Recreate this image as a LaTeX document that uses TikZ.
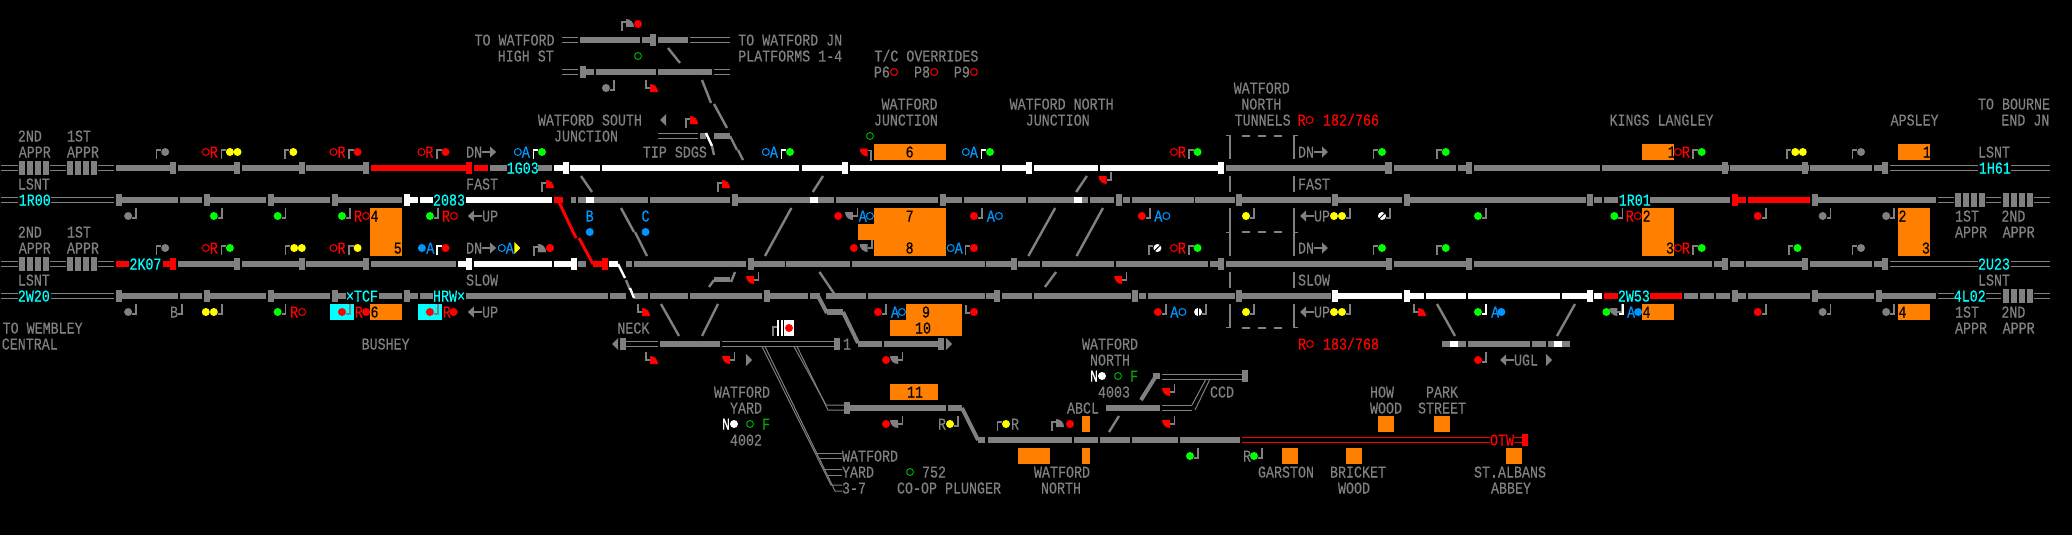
\documentclass[tikz,border=0pt]{standalone}
\usepackage{fontspec}
\newfontfamily\sgfont[FakeStretch=0.808,FakeBold=0.3]{Liberation Mono}
\definecolor{gy}{HTML}{808080}
\definecolor{rd}{HTML}{FF0000}
\definecolor{wh}{HTML}{FFFFFF}
\definecolor{gn}{HTML}{00FF00}
\definecolor{dg}{HTML}{00AA00}
\definecolor{yl}{HTML}{FFFF00}
\definecolor{cy}{HTML}{00FFFF}
\definecolor{bl}{HTML}{0096FF}
\definecolor{og}{HTML}{FF8000}
\newcounter{tn}
\tikzset{
  txt/.style={inner sep=0pt,outer sep=0pt,anchor=base west,font=\sgfont\fontsize{16.5}{16.5}\selectfont},
  thinl/.style={line width=1pt},
  postl/.style={line width=1.6pt},
  diag/.style={gy,line width=2.4pt},
}
\newcommand\sgT[4]{\stepcounter{tn}\node[txt,text=#1] (t\arabic{tn}) at (#2,#3+5.5) {#4};}
\newcommand\sgSeg[3]{\foreach \a/\b in {#3} {\fill[#1] (\a,#2-3) rectangle (\b,#2+3);}}
\newcommand\sgTick[3]{\foreach \a in {#3} {\fill[#1] (\a,#2-6) rectangle ++(6pt,-12pt);}}
\newcommand\sgDbl[3]{\foreach \a/\b in {#3} {\draw[#1,thinl] (\a,#2-2.5) -- (\b,#2-2.5) (\a,#2+2.5) -- (\b,#2+2.5);}}
\newcommand\sgStr[2]{\begin{scope}[shift={(#1,#2)},x=1pt]\foreach \i in {0,8,16,24} {\fill[gy] (\i,-7) rectangle (\i+6,7);}\end{scope}}
\newcommand\sgBox[5]{\fill[#1] (#2,#3) rectangle (#4,#5);}
\newcommand\sgDot[3]{\fill[#1] (#2,#3) circle[radius=4pt];}
\newcommand\sgRing[3]{\draw[#1,line width=1pt] (#2,#3) circle[radius=3.5pt];}
\newcommand\sgA[4]{\begin{scope}[shift={(#1,#2)},x=1pt]\draw[#4,postl] (-8.5,7) -- (-8.5,-2) -- (-4,-2);\fill[#3] (0,0) circle[radius=4pt];\end{scope}}
\newcommand\sgB[4]{\begin{scope}[shift={(#1,#2)},x=1pt]\draw[#4,postl] (8,-8) -- (8,2) -- (4,2);\fill[#3] (0,0) circle[radius=4pt];\end{scope}}
\newcommand\sgPostB[3]{\begin{scope}[shift={(#1,#2)},x=1pt]\draw[#3,postl] (8,-8) -- (8,2) -- (4,2);\end{scope}}
\newcommand\shA[3]{\begin{scope}[shift={(#1,#2)},x=1pt]\draw[gy,postl] (-4,4) -- (-4,-5) -- (0,-5);\fill[#3] (0,0) -- (8,0) arc[start angle=0,end angle=90,radius=8pt] -- cycle;\end{scope}}
\newcommand\shB[3]{\begin{scope}[shift={(#1,#2)},x=1pt]\draw[gy,postl] (-4,-12) -- (-4,-4) -- (0,-4);\fill[#3] (0,0) -- (8,0) arc[start angle=0,end angle=90,radius=8pt] -- cycle;\end{scope}}
\newcommand\shC[3]{\begin{scope}[shift={(#1,#2)},x=1pt]\draw[gy,postl] (4.5,-4) -- (4.5,4) -- (0,4);\fill[#3] (0,0) -- (0,8) arc[start angle=270,end angle=180,radius=8pt] -- cycle;\end{scope}}
\newcommand\shD[3]{\begin{scope}[shift={(#1,#2)},x=1pt]\draw[gy,postl] (0,2) -- (3.5,2) -- (3.5,12);\fill[#3] (0,0) -- (0,8) arc[start angle=270,end angle=180,radius=8pt] -- cycle;\end{scope}}
\newcommand\sgRingL[5]{\begin{scope}[shift={(#3,#4)},x=1pt]\sgRing{#1}{4}{0}\sgT{#1}{8}{0}{#2}\end{scope}}
\newcommand\sgLRing[5]{\begin{scope}[shift={(#3,#4)},x=1pt]\sgT{#1}{0}{0}{#2}\sgRing{#1}{12}{0}\end{scope}}
\newcommand\sgArR[2]{\begin{scope}[shift={(#1,#2)},x=1pt]\fill[gy] (0,-1) rectangle (8,1);\fill[gy] (8,-5.5) -- (14,0) -- (8,5.5) -- cycle;\end{scope}}
\newcommand\sgArL[2]{\begin{scope}[shift={(#1,#2)},x=1pt]\fill[gy] (6,-1) rectangle (14,1);\fill[gy] (6,-5.5) -- (0,0) -- (6,5.5) -- cycle;\end{scope}}
\newcommand\sgTriR[3]{\begin{scope}[shift={(#1,#2)},x=1pt]\fill[#3] (0,-6) -- (6,0) -- (0,6) -- cycle;\end{scope}}
\newcommand\sgTriL[3]{\begin{scope}[shift={(#1,#2)},x=1pt]\fill[#3] (6,-6) -- (0,0) -- (6,6) -- cycle;\end{scope}}
\begin{document}
\begin{tikzpicture}[x=1pt,y=-1pt]
\fill[black] (0,0) rectangle (2072,535);
\useasboundingbox (0,0) rectangle (2072,535);
%% ---------- SCOPE A: zoom 1/2 x units
\begin{scope}[x=0.44643pt]
\sgBox{og}{829}{208}{900}{256}
\sgBox{og}{829}{304}{900}{320}
\sgBox{cy}{739}{304}{793}{320}
\sgBox{cy}{936}{304}{990}{320}
% row 168
\sgDbl{gy}{168}{3/40,113/148,220/256}
\sgStr{43}{168}\sgStr{150}{168}
\sgSeg{gy}{168}{260/390,399/536,542/680,685/824,1098/1135,1204/1237}
\sgTick{gy}{168}{381,524,669,812}
\sgSeg{rd}{168}{830/1056,1062/1094}
\sgTick{rd}{168}{1044}
\sgSeg{wh}{168}{1241/1272,1277/1344,1348/1568}
\sgTick{wh}{168}{1260}
\sgT{cy}{1135}{168}{1G03}
% row 200
\sgDbl{gy}{200}{3/40,114/256}
\sgT{cy}{42}{200}{1R00}
\sgSeg{gy}{200}{272/399,403/453,470/596,613/739,757/901,1278/1290,1295/1312,1330/1452,1456/1568}
\sgTick{gy}{200}{260,457,600,744}
\sgSeg{wh}{200}{918/936,941/970,1044/1236,1313/1330}
\sgTick{wh}{200}{905}
\sgSeg{rd}{200}{1241/1262}
\sgT{cy}{970}{200}{2083}
% row 264
\sgDbl{gy}{264}{3/40,113/148,220/256}
\sgStr{43}{264}\sgStr{150}{264}
\sgSeg{rd}{264}{260/290,364/394,1328/1362}
\sgTick{rd}{264}{381,1348}
\sgT{cy}{290}{264}{2K07}
\sgSeg{gy}{264}{399/536,542/680,685/824,830/1022,1295/1312,1403/1415,1420/1568}
\sgTick{gy}{264}{524,669,812}
\sgSeg{wh}{264}{1027/1058,1062/1236,1241/1290,1365/1385}
\sgTick{wh}{264}{1044,1278}
% row 296
\sgDbl{gy}{296}{3/40,114/256}
\sgT{cy}{40}{296}{2W20}
\sgSeg{gy}{296}{272/399,403/453,470/596,613/739,757/775,848/901,918/936,941/970,1044/1362,1366/1402,1420/1452,1456/1541,1546/1568}
\sgTick{gy}{296}{260,457,600,744,905}
\sgT{cy}{775}{296}{×TCF}
\sgT{cy}{970}{296}{HRW×}
% labels
\sgT{gy}{40}{136}{2ND}\sgT{gy}{150}{136}{1ST}
\sgT{gy}{42}{152}{APPR}\sgT{gy}{150}{152}{APPR}
\sgT{gy}{40}{184}{LSNT}\sgT{gy}{1044}{184}{FAST}
\sgT{gy}{40}{232}{2ND}\sgT{gy}{150}{232}{1ST}
\sgT{gy}{42}{248}{APPR}\sgT{gy}{150}{248}{APPR}
\sgT{gy}{40}{280}{LSNT}\sgT{gy}{1044}{280}{SLOW}
\sgT{gy}{6}{328}{TO WEMBLEY}\sgT{gy}{4}{344}{CENTRAL}
\sgT{gy}{810}{344}{BUSHEY}
\sgT{gy}{1063}{40}{TO WATFORD}\sgT{gy}{1115}{56}{HIGH ST}
\sgT{gy}{1205}{120}{WATFORD SOUTH}\sgT{gy}{1241}{136}{JUNCTION}
\sgT{gy}{1440}{152}{TIP SDGS}
\sgT{gy}{1383}{328}{NECK}
\sgT{bl}{1312}{216}{B}\sgT{bl}{1437}{216}{C}
\sgDot{bl}{1321}{232}\sgDot{bl}{1446}{232}
% signals y=152
\sgA{370}{152}{gy}{gy}
\sgRingL{rd}{R}{452}{152}{}
\sgA{515}{152}{yl}{gy}\sgDot{yl}{532}{152}
\sgA{657}{152}{yl}{gy}
\sgRingL{rd}{R}{738}{152}{}\sgA{801}{152}{rd}{gy}
\sgRingL{rd}{R}{935}{152}{}\sgA{998}{152}{rd}{gy}
\sgT{gy}{1044}{152}{DN}\sgArR{1080}{152}
\sgRingL{bl}{A}{1151}{152}{}\sgA{1214}{152}{gn}{wh}
% y=216
\sgB{287}{216}{gy}{gy}\sgB{479}{216}{gn}{gy}\sgB{622}{216}{gn}{gy}\sgB{766}{216}{gn}{gy}
\sgLRing{rd}{R}{793}{216}{}
\sgT{black}{830}{216}{4}\sgT{black}{882}{248}{5}
\sgB{963}{216}{gn}{gy}\sgLRing{rd}{R}{990}{216}{}
\sgArL{1048}{216}\sgT{gy}{1080}{216}{UP}
% y=248
\sgA{370}{248}{gy}{gy}
\sgRingL{rd}{R}{452}{248}{}\sgA{515}{248}{gn}{gy}
\sgA{659}{248}{yl}{gy}\sgDot{yl}{676}{248}
\sgRingL{rd}{R}{738}{248}{}\sgA{801}{248}{yl}{gy}
\sgDot{bl}{945}{248}\sgT{bl}{955}{248}{A}
\sgA{998}{248}{rd}{wh}
\sgT{gy}{1044}{248}{DN}\sgArR{1080}{248}
\sgRingL{bl}{A}{1115}{248}{}
\sgTriR{1152}{248}{yl}
\shA{1205}{252}{gy}\sgDot{rd}{1232}{248}
% y=312
\sgB{287}{312}{gy}{gy}
\sgT{gy}{381}{312}{B}\sgPostB{390}{312}{gy}
\sgB{479}{312}{yl}{gy}\sgDot{yl}{461}{312}
\sgB{622}{312}{gn}{gy}\sgLRing{rd}{R}{650}{312}{}
\sgB{766}{312}{rd}{gy}\sgT{rd}{795}{312}{R}\sgDot{rd}{820}{312}
\sgT{black}{830}{312}{6}
\sgB{963}{312}{rd}{gy}\sgT{rd}{992}{312}{R}\sgDot{rd}{1016}{312}
\sgArL{1048}{312}\sgT{gy}{1080}{312}{UP}
\end{scope}
%% ---------- SCOPE B: zoom 3/4 x units
\begin{scope}[x=0.44643pt,xshift=690pt]
\sgBox{og}{412}{144}{573}{160}
\sgBox{og}{412}{208}{573}{256}
\sgBox{og}{376}{224}{412}{240}
% row 168
\sgSeg{wh}{168}{0/245,250/355,358/694,698/766,771/914,918/1196}
\sgTick{wh}{168}{340,753,1183}
\sgSeg{gy}{168}{1200/1568}
\sgTick{gy}{168}{1557}
% row 200
\sgSeg{gy}{200}{0/90,108/268,287/323,327/556,573/609,613/753,757/860,878/892,896/950,969/985,990/1128,1132/1220,1237/1435,1452/1568}
\sgSeg{wh}{200}{268/287,860/878}
\sgTick{gy}{200}{94,560,955,1223,1438}
% row 264
\sgSeg{gy}{264}{0/126,144/212,216/358,362/660,664/720,735/783,788/950,954/1160,1165/1183,1200/1568}
\sgTick{gy}{264}{130,718,1183}
% row 296
\sgSeg{gy}{296}{0/162,180/264,268/292,305/395,399/660,664/680,699/766,771/988,1005/1022,1026/1220,1237/1435}
\sgTick{gy}{296}{166,680,991,1223}
\sgTick{wh}{296}{1438}
\sgSeg{wh}{296}{1452/1568}
% labels
\sgT{gy}{108}{40}{TO WATFORD JN}\sgT{gy}{108}{56}{PLATFORMS 1-4}
\sgT{gy}{413}{56}{T/C OVERRIDES}
\sgT{gy}{412}{72}{P6}\sgRing{rd}{457}{72}
\sgT{gy}{502}{72}{P8}\sgRing{rd}{547}{72}
\sgT{gy}{591}{72}{P9}\sgRing{rd}{636}{72}
\sgT{gy}{429}{104}{WATFORD}\sgT{gy}{412}{120}{JUNCTION}
\sgT{gy}{716}{104}{WATFORD NORTH}\sgT{gy}{752}{120}{JUNCTION}
\sgT{gy}{1218}{88}{WATFORD}\sgT{gy}{1235}{104}{NORTH}\sgT{gy}{1220}{120}{TUNNELS}
\sgLRing{rd}{R}{1361}{120}{}\sgT{rd}{1418}{120}{182/766}
\sgRing{dg}{403}{136}
% y=152
\sgRingL{bl}{A}{161}{152}{}\sgA{224}{152}{gn}{wh}
\shD{398}{148.5}{rd}
\sgT{black}{483}{152}{6}
\sgRingL{bl}{A}{609}{152}{}\sgA{672}{152}{gn}{wh}
\sgRingL{rd}{R}{1075}{152}{}\sgA{1137}{152}{gn}{gy}
% y=184
\draw[diag] (275,192) -- (298,176);
\shC{933}{176}{rd}
\draw[diag] (865,192) -- (889,176);
% y=216
\sgDot{rd}{332}{216}\shC{365}{212}{gy}
\sgT{bl}{378}{216}{A}\sgRing{bl}{403}{216}
\sgT{black}{483}{216}{7}\sgT{black}{483}{248}{8}
\sgB{636}{216}{rd}{gy}\sgLRing{bl}{A}{665}{216}{}
\sgB{1012}{216}{rd}{gy}\sgLRing{bl}{A}{1040}{216}{}
% y=248
\sgDot{rd}{367}{248}\shC{398}{244}{gy}
\sgRingL{bl}{A}{575}{248}{}\sgA{636}{248}{rd}{gy}
\sgA{1047}{248}{wh}{gy}\draw[black,line width=1pt] (1040,251) -- (1054,245);
\sgRingL{rd}{R}{1075}{248}{}\sgA{1137}{248}{gn}{gy}
% diagonals
\draw[diag] (168,256) -- (227,208);
\draw[diag] (758,256) -- (818,208);
\draw[diag] (866,256) -- (925,208);
% y 280 etc
\draw[diag] (795,287) -- (820,272);
\shC{968}{276}{rd}
\draw[diag] (290,272) -- (325,295);
\sgB{1048}{312}{rd}{gy}\sgLRing{bl}{A}{1076}{312}{}
\sgB{1138}{312}{wh}{gy}\draw[black,line width=1pt] (1138,308) -- (1138,316);
\end{scope}
%% ---------- SCOPE C: zoom 5 x units
\begin{scope}[x=0.4413pt,xshift=1380pt]
\sgBox{og}{594}{144}{666}{160}
\sgBox{og}{1174}{144}{1246}{160}
\sgBox{og}{594}{208}{666}{256}
\sgBox{og}{1174}{208}{1246}{256}
\sgBox{og}{594}{304}{666}{320}
\sgBox{og}{1174}{304}{1246}{320}
% row 168
\sgSeg{gy}{168}{0/27,32/172,177/208,213/498,503/790,793/971,974/1115,1120/1152}
\sgTick{gy}{168}{14,195,776,957,1138}
\sgDbl{gy}{168}{1156/1355,1430/1518}
\sgT{cy}{1357}{168}{1H61}
% row 200
\sgSeg{gy}{200}{0/50,68/467,484/503,508/539,612/792,992/1260}
\sgTick{gy}{200}{54,470,979}
\sgT{cy}{541}{200}{1R01}
\sgTick{rd}{200}{798}
\sgSeg{rd}{200}{811/830,834/974}
\sgDbl{gy}{200}{1264/1300,1374/1408,1482/1518}
\sgStr{1303}{200}\sgStr{1412}{200}
% row 264
\sgSeg{gy}{264}{0/27,32/195,213/752,757/776,793/825,829/957,974/1115,1120/1138}
\sgTick{gy}{264}{14,195,776,957,1138}
\sgDbl{gy}{264}{1156/1355,1430/1518}
\sgT{cy}{1355}{264}{2U23}
% row 296
\sgSeg{wh}{296}{0/50,68/100,104/195,199/408,412/470,484/503}
\sgTick{wh}{296}{54,470}
\sgSeg{rd}{296}{508/539,612/684}
\sgT{cy}{539}{296}{2W53}
\sgSeg{gy}{296}{688/720,724/757,761/793,811/830,834/974,992/1120,1137/1260}
\sgTick{gy}{296}{798,979,1124}
\sgDbl{gy}{296}{1264/1300,1374/1408,1482/1518}
\sgT{cy}{1300}{296}{4L02}
\sgStr{1412}{296}
% labels
\sgT{gy}{520}{120}{KINGS LANGLEY}\sgT{gy}{1157}{120}{APSLEY}
\sgT{gy}{1355}{104}{TO BOURNE}\sgT{gy}{1408}{120}{END JN}
\sgT{gy}{1355}{152}{LSNT}\sgT{gy}{1355}{280}{LSNT}
\sgT{gy}{1303}{216}{1ST}\sgT{gy}{1408}{216}{2ND}
\sgT{gy}{1303}{232}{APPR}\sgT{gy}{1411}{232}{APPR}
\sgT{gy}{1303}{312}{1ST}\sgT{gy}{1408}{312}{2ND}
\sgT{gy}{1303}{328}{APPR}\sgT{gy}{1411}{328}{APPR}
% y=152
\sgA{149}{152}{gn}{gy}
\sgT{black}{652}{152}{1}\sgRingL{rd}{R}{666}{152}{}
\sgA{729}{152}{gn}{gy}
\sgA{941}{152}{yl}{gy}\sgDot{yl}{958}{152}
\sgA{1090}{152}{gy}{gy}
\sgT{black}{1230}{152}{1}
% y=216
\sgB{222}{216}{gn}{gy}\sgB{531}{216}{gn}{gy}
\sgLRing{rd}{R}{557}{216}{}
\sgT{black}{595}{216}{2}\sgT{black}{648}{248}{3}
\sgRingL{rd}{R}{666}{248}{}
\sgB{856}{216}{rd}{gy}\sgB{1003}{216}{gy}{gy}\sgB{1147}{216}{gy}{gy}
\sgT{black}{1175}{216}{2}\sgT{black}{1228}{248}{3}
% y=248
\sgA{149}{248}{gn}{gy}\sgA{729}{248}{gn}{gy}
\sgA{946}{248}{gn}{gy}\sgA{1090}{248}{gy}{gy}
% y=312
\sgB{222}{312}{gn}{wh}\sgT{bl}{252}{312}{A}\sgDot{bl}{275}{312}
\sgDot{gn}{513}{312}
\shC{538}{308}{gy}\sgPostB{533}{312}{wh}
\sgT{bl}{560}{312}{A}\sgDot{bl}{585}{312}
\sgT{black}{595}{312}{4}
\sgB{856}{312}{rd}{gy}\sgB{1003}{312}{gy}{gy}\sgB{1147}{312}{gy}{gy}
\sgT{black}{1175}{312}{4}
\end{scope}
%% ---------- true pixel items
\sgDbl{gy}{40}{562/578,690/730}
\sgSeg{gy}{40}{580/640,642/651,658/688}
\sgTick{gy}{40}{650}
\sgDbl{gy}{72}{562/578,714/730}
\sgSeg{gy}{72}{586/594,596/656,658/712}
\sgTick{gy}{72}{580}
\shA{626}{27}{gy}\sgDot{rd}{638}{24}
\sgRing{dg}{638}{56}
\draw[diag] (668,48) -- (680,63);
\sgB{606}{88}{gy}{gy}
\shB{650}{92}{rd}
\draw[diag] (702,80) -- (711,103);
\draw[diag] (714,104) -- (727,128);
\sgTriL{660}{120}{gy}
\shA{690}{124}{rd}
\sgDbl{gy}{136}{658/698}
\sgSeg{gy}{136}{700/706,714/730}
\draw[wh,line width=2.4pt] (706,133) -- (712,146);
\draw[diag] (712,146) -- (714,155);
\draw[diag] (730,136) -- (737,150);
\draw[diag] (738,150) -- (743,160);
% fast/slow crossings
\draw[diag] (581,176) -- (592,192);
\shA{546}{188}{rd}
\draw[rd,line width=3pt] (558,200) -- (576,238);
\draw[rd,line width=3pt] (579,238) -- (593,264);
\draw[diag] (621,208) -- (634,232);
\draw[diag] (635,232) -- (647,256);
\shA{538}{252}{gy}\sgDot{rd}{550}{248}
\draw[wh,line width=2.4pt] (618,264) -- (625,278);
\draw[diag] (626,280) -- (630,290);
\draw[wh,line width=2.4pt] (630,288) -- (634,298);
\shA{722}{188}{rd}
\fill[gy] (714,277) rectangle (730,282);
\draw[diag] (714,280) -- (709,287);
\draw[diag] (731,282) -- (735,272);
\shC{754}{276}{rd}
\shB{642}{316}{rd}
\draw[diag] (661,304) -- (679,336);
\draw[diag] (718,304) -- (702,336);
% neck
\sgTriL{612}{344}{gy}
\sgTick{gy}{344}{620}
\sgDbl{gy}{344}{626/658,722/834}
\sgSeg{gy}{344}{660/720}
\sgTick{gy}{344}{834}
\sgT{gy}{843}{344}{1}
\shB{650}{364}{rd}
\shC{730}{356}{rd}
\sgTriR{746}{360}{gy}
% yard lines
\draw[gy,thinl] (762,346.5) -- (831,485) -- (842,485);
\draw[gy,thinl] (765,346.5) -- (835,491) -- (842,491);
\draw[gy,thinl] (815,453) -- (842,453);
\draw[gy,thinl] (819,458.5) -- (842,458.5);
\draw[gy,thinl] (823,469) -- (842,469);
\draw[gy,thinl] (827,475) -- (842,475);
\draw[gy,thinl] (794,346.5) -- (826,405) -- (844,405);
\draw[gy,thinl] (797,346.5) -- (828,410) -- (844,410);
% box signal
\draw[gy,postl] (773,336) -- (773,327) -- (778,327);
\fill[wh] (777,320) rectangle (779,336);
\fill[wh] (781,320) rectangle (783,336);
\fill[wh] (784,320) rectangle (794,336);
\sgDot{rd}{789}{328}
% yard branch tracks
\sgSeg{gy}{296}{810/818}
\draw[gy,line width=4pt] (818,296) -- (827,313);
\sgSeg{gy}{312}{827/843}
\draw[gy,line width=4pt] (843,312) -- (858,343);
\sgSeg{gy}{344}{858/882,884/938}
\sgTick{gy}{344}{938}
\sgTriR{946}{344}{gy}
\fill[og] (890,320) rectangle (962,336);
\fill[og] (906,304) rectangle (962,320);
\sgB{878}{312}{rd}{gy}
\sgT{bl}{891}{312}{A}\sgRing{bl}{902}{312}
\sgT{black}{922}{312}{9}\sgT{black}{915}{328}{10}
\draw[gy,postl] (966,305) -- (966,313) -- (970,313);\sgDot{rd}{974}{312}
\sgDot{rd}{886}{360}\shC{898}{356}{gy}
\sgBox{og}{890}{384}{938}{400}\sgT{black}{907}{392}{11}
\sgTick{gy}{408}{844}
\sgSeg{gy}{408}{850/946,948/962}
\draw[gy,line width=4pt] (962,408) -- (978,440);
\sgDot{rd}{886}{424}\shC{898}{420}{gy}
\sgT{gy}{938}{424}{R}\sgB{950}{424}{yl}{gy}
\sgT{gy}{842}{456}{WATFORD}\sgT{gy}{842}{472}{YARD}\sgT{gy}{842}{488}{3-7}
\sgRing{dg}{910}{472}\sgT{gy}{922}{472}{752}
\sgT{gy}{897}{488}{CO-OP PLUNGER}
\sgT{gy}{714}{392}{WATFORD}\sgT{gy}{730}{408}{YARD}
\sgT{wh}{722}{424}{N}\sgDot{wh}{734}{424}\sgRing{dg}{750}{424}\sgT{dg}{762}{424}{F}
\sgT{gy}{730}{440}{4002}
% north
\sgSeg{gy}{440}{978/985,988/1072,1074/1098,1100/1130,1132/1178,1180/1240}
\sgBox{og}{1018}{448}{1050}{464}
\sgT{gy}{1034}{472}{WATFORD}\sgT{gy}{1041}{488}{NORTH}
\sgA{1006}{424}{yl}{gy}\sgT{gy}{1011}{424}{R}
\shA{1056}{427}{gy}\sgDot{rd}{1070}{424}
\sgBox{og}{1082}{416}{1090}{432}\sgBox{og}{1082}{448}{1090}{464}
\draw[diag] (1109,432) -- (1119,416);
\sgT{gy}{1067}{408}{ABCL}
\sgT{gy}{1082}{344}{WATFORD}\sgT{gy}{1090}{360}{NORTH}
\sgT{wh}{1090}{376}{N}\sgDot{wh}{1102}{376}\sgRing{dg}{1118}{376}\sgT{dg}{1130}{376}{F}
\sgT{gy}{1098}{392}{4003}\sgT{gy}{1210}{392}{CCD}
\sgSeg{gy}{408}{1106/1160}
\sgDbl{gy}{407.5}{1162/1192}
\draw[gy,thinl] (1192,405) -- (1206,379);
\draw[gy,thinl] (1195,410) -- (1210,379);
\sgDbl{gy}{376.5}{1162/1242}
\sgTick{gy}{376}{1242}
\draw[gy,line width=4pt] (1141,400) -- (1156,376);
\sgSeg{gy}{376}{1153/1160}
\shC{1170}{388}{rd}\shC{1170}{420}{rd}
\sgB{1190}{456}{gn}{gy}
\sgT{gy}{1243}{456}{R}\sgB{1254}{456}{gn}{gy}
% red line
\draw[rd,thinl] (1242,437.5) -- (1490,437.5) (1242,442.5) -- (1490,442.5);
\sgT{rd}{1490}{440}{OTW}
\draw[rd,thinl] (1514,437.5) -- (1522,437.5) (1514,442.5) -- (1522,442.5);
\sgTick{rd}{440}{1522}
\sgBox{og}{1282}{448}{1298}{464}\sgBox{og}{1346}{448}{1362}{464}
\sgBox{og}{1378}{416}{1394}{432}\sgBox{og}{1434}{416}{1450}{432}
\sgBox{og}{1506}{448}{1522}{464}
\sgT{gy}{1258}{472}{GARSTON}\sgT{gy}{1330}{472}{BRICKET}\sgT{gy}{1338}{488}{WOOD}
\sgT{gy}{1370}{392}{HOW}\sgT{gy}{1370}{408}{WOOD}
\sgT{gy}{1426}{392}{PARK}\sgT{gy}{1418}{408}{STREET}
\sgT{gy}{1474}{472}{ST.ALBANS}\sgT{gy}{1491}{488}{ABBEY}
\sgLRing{rd}{R}{1298}{344}{}\sgT{rd}{1323}{344}{183/768}
% tunnels
\foreach \yy/\zz in {135/159,176/192,208/256,272/288,304/328} {
  \draw[gy,line width=1.6pt] (1230,\yy) -- (1230,\zz);
  \draw[gy,line width=1.6pt] (1294,\yy) -- (1294,\zz);
}
\draw[gy,thinl] (1226,135.5) -- (1230,135.5) (1294,135.5) -- (1298,135.5);
\draw[gy,thinl] (1226,232) -- (1230,232) (1294,232) -- (1298,232);
\draw[gy,thinl] (1226,327.5) -- (1230,327.5) (1294,327.5) -- (1298,327.5);
\foreach \yy in {136,232,328} {\foreach \xx in {1242,1258,1274} {\fill[gy] (\xx,\yy-1) rectangle (\xx+8,\yy+1);}}
\sgT{gy}{1298}{152}{DN}\sgArR{1314}{152}
\sgT{gy}{1298}{184}{FAST}
\sgArL{1300}{216}\sgT{gy}{1314}{216}{UP}
\sgT{gy}{1298}{248}{DN}\sgArR{1314}{248}
\sgT{gy}{1298}{280}{SLOW}
\sgArL{1300}{312}\sgT{gy}{1314}{312}{UP}
\sgB{1342}{216}{yl}{gy}\sgDot{yl}{1334}{216}
\sgB{1342}{312}{yl}{gy}\sgDot{yl}{1334}{312}
\sgB{1246}{216}{yl}{gy}\sgB{1246}{312}{yl}{gy}
\sgA{1382}{152}{gn}{gy}\sgA{1382}{248}{gn}{gy}
\sgB{1382}{216}{wh}{gy}\draw[black,line width=1pt] (1379,219) -- (1385,213);
\shB{1418}{316}{rd}
% UGL
\sgSeg{gy}{344}{1442/1450,1458/1466,1468/1530,1532/1546,1548/1554,1562/1570}
\sgSeg{wh}{344}{1450/1458,1554/1562}
\draw[diag] (1437,304) -- (1455,336);
\draw[diag] (1575,304) -- (1557,336);
\sgB{1478}{360}{rd}{gy}
\sgArL{1500}{360}\sgT{gy}{1514}{360}{UGL}
\sgTriR{1546}{360}{gy}
\end{tikzpicture}
\end{document}
